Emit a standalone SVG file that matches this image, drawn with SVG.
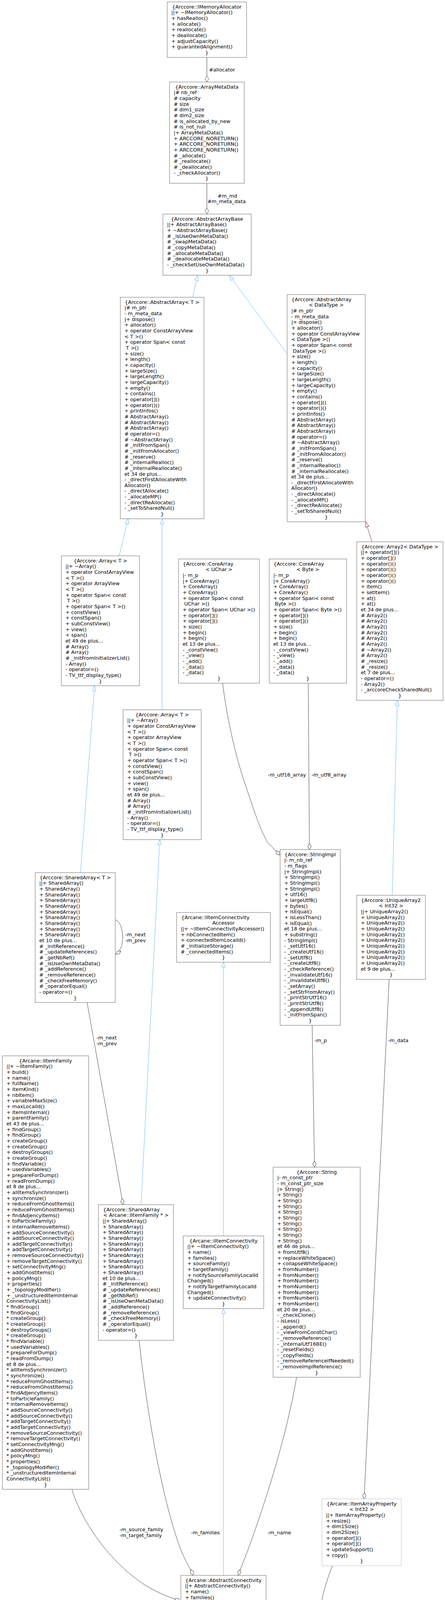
<svg xmlns="http://www.w3.org/2000/svg" width="1139" height="4711" viewBox="0 0 1139 4711">
<style>
text{font-family:"DejaVu Sans","Liberation Sans",sans-serif;font-size:12.8px;fill:#000}
.c{text-anchor:middle}
.b{fill:#fff;stroke:#666;stroke-width:1}
.g{fill:#fff;stroke:#bfbfbf;stroke-width:1}
.f{fill:#999;stroke:#666;stroke-width:1}
.e{fill:none;stroke:#404040;stroke-width:1}
.i{fill:none;stroke:#63b8ff;stroke-width:1}
.t{fill:none;stroke:#8b1a1a;stroke-width:1}
</style>
<defs>
<marker id="tri" viewBox="-14 -6 15 12" refX="0" refY="0" markerWidth="15" markerHeight="12" markerUnits="userSpaceOnUse" orient="auto"><path d="M0,0 L-13,-4.5 L-13,4.5 Z" fill="#fff" stroke="#63b8ff"/></marker>
<marker id="triR" viewBox="-14 -6 15 12" refX="0" refY="0" markerWidth="15" markerHeight="12" markerUnits="userSpaceOnUse" orient="auto"><path d="M0,0 L-13,-4.5 L-13,4.5 Z" fill="#fff" stroke="#8b1a1a"/></marker>
<marker id="dia" viewBox="-17 -6 18 12" refX="0" refY="0" markerWidth="18" markerHeight="12" markerUnits="userSpaceOnUse" orient="auto"><path d="M0,0 L-8,-4.5 L-16,0 L-8,4.5 Z" fill="#fff" stroke="#404040"/></marker>
</defs>
<rect width="1139" height="4711" fill="#fff"/>

<g id="edges">
<path class="e" d="M529.5,147 L529.5,210" marker-end="url(#dia)"/>
<path class="e" d="M529.5,469 L529.5,548" marker-end="url(#dia)"/>
<path class="i" d="M493,761 L506,705" marker-end="url(#tri)"/>
<path class="i" d="M735,906 L587,705" marker-end="url(#tri)"/>
<path class="i" d="M305,1423 L328,1328" marker-end="url(#tri)"/>
<path class="i" d="M415,1817 L415,1328" marker-end="url(#tri)"/>
<path class="t" d="M952,1387 L936,1336" marker-end="url(#triR)"/>
<path class="e" d="M570,1749 C578,1820 600,1930 630,2015 C652,2080 666,2125 686,2158 L717,2189" marker-end="url(#dia)"/>
<path class="e" d="M789,1749 L792,2175" marker-end="url(#dia)"/>
<path class="i" d="M1004,2292 L1017,1793" marker-end="url(#tri)"/>
<path class="i" d="M206,2234 L242,1756" marker-end="url(#tri)"/>
<path class="e" d="M295,2355 C315,2358 325,2425 296,2443" marker-end="url(#dia)"/>
<path class="e" d="M223,2566.5 L315,3084" marker-end="url(#dia)"/>
<path class="i" d="M361,3084 L409,2149.5" marker-end="url(#tri)"/>
<path class="i" d="M572,3164 L572,2463" marker-end="url(#tri)"/>
<path class="e" d="M799,2625 L805,2988" marker-end="url(#dia)"/>
<path class="e" d="M996,2507 L932,3837" marker-end="url(#dia)"/>
<path class="i" d="M572,4033 L572,3350" marker-end="url(#tri)"/>
<path class="e" d="M184,3812.5 C210,3900 290,4010 380,4063 C410,4080 430,4088 462,4098" marker-end="url(#dia)"/>
<path class="e" d="M356,3431 C380,3650 420,3850 460,3960 C475,4000 488,4015 494,4033" marker-end="url(#dia)"/>
<path class="e" d="M759,3526 C730,3700 660,3900 630,3980 C620,4005 614,4020 610,4033" marker-end="url(#dia)"/>
<path class="i" d="M712,4275 L650,4205" marker-end="url(#tri)"/>
<path class="e" d="M851,4008 C830,4060 814,4120 812,4200 L812,4268" marker-end="url(#dia)"/>
<path class="e" d="M998,4139 L918,4268" marker-end="url(#dia)"/>
<path class="i" d="M826,4591 L826,4542" marker-end="url(#tri)"/>
<text x="535" y="182.6">#allocator</text>
<text class="c" x="582" y="505.6">#m_md</text>
<text class="c" x="580" y="519.6">#m_meta_data</text>
<text class="c" x="734.5" y="1987.6">-m_utf16_array</text>
<text class="c" x="842" y="1987.6">-m_utf8_array</text>
<text x="321" y="2396.6">-m_next</text>
<text x="321" y="2411.6">-m_prev</text>
<text x="247" y="2660.6">-m_next</text>
<text x="247" y="2675.6">-m_prev</text>
<text x="805" y="2667.6">-m_p</text>
<text x="993" y="2667.6">-m_data</text>
<text x="306" y="3919.6">-m_source_family</text>
<text x="306" y="3934.6">-m_target_family</text>
<text x="489" y="3927.6">-m_families</text>
<text x="685" y="3927.6">-m_name</text>
<text x="845" y="4123.6">-m_item_property</text>
<text x="939" y="4240.6">-m_nb_dof_per_item</text>
</g>

<g id="n_IMemoryAllocator">
<rect class="b" x="428" y="5" width="203" height="141.94"/>
<text class="c" x="529.5" y="21.7">{Arccore::IMemoryAllocator</text>
<text x="438.5" y="21.7"><tspan x="438.5" dy="14.66">||+ ~IMemoryAllocator()</tspan><tspan x="438.5" dy="14.66">+ hasRealloc()</tspan><tspan x="438.5" dy="14.66">+ allocate()</tspan><tspan x="438.5" dy="14.66">+ reallocate()</tspan><tspan x="438.5" dy="14.66">+ deallocate()</tspan><tspan x="438.5" dy="14.66">+ adjustCapacity()</tspan><tspan x="438.5" dy="14.66">+ guarantedAlignment()</tspan></text>
<text class="c" x="529.5" y="138.98">}</text>
</g>

<g id="n_ArrayMetaData">
<rect class="b" x="434" y="210" width="191" height="259.22"/>
<text class="c" x="529.5" y="226.7">{Arccore::ArrayMetaData</text>
<text x="444.5" y="226.7"><tspan x="444.5" dy="14.66">|# nb_ref</tspan><tspan x="444.5" dy="14.66"># capacity</tspan><tspan x="444.5" dy="14.66"># size</tspan><tspan x="444.5" dy="14.66"># dim1_size</tspan><tspan x="444.5" dy="14.66"># dim2_size</tspan><tspan x="444.5" dy="14.66"># is_allocated_by_new</tspan><tspan x="444.5" dy="14.66"># is_not_null</tspan><tspan x="444.5" dy="14.66">|+ ArrayMetaData()</tspan><tspan x="444.5" dy="14.66">+ ARCCORE_NORETURN()</tspan><tspan x="444.5" dy="14.66">+ ARCCORE_NORETURN()</tspan><tspan x="444.5" dy="14.66">+ ARCCORE_NORETURN()</tspan><tspan x="444.5" dy="14.66"># _allocate()</tspan><tspan x="444.5" dy="14.66"># _reallocate()</tspan><tspan x="444.5" dy="14.66"># _deallocate()</tspan><tspan x="444.5" dy="14.66">- _checkAllocator()</tspan></text>
<text class="c" x="529.5" y="461.26">}</text>
</g>

<g id="n_AbstractArrayBase">
<rect class="b" x="417" y="548" width="226" height="156.6"/>
<text class="c" x="530" y="564.7">{Arccore::AbstractArrayBase</text>
<text x="427.5" y="564.7"><tspan x="427.5" dy="14.66">||+ AbstractArrayBase()</tspan><tspan x="427.5" dy="14.66">+ ~AbstractArrayBase()</tspan><tspan x="427.5" dy="14.66"># _isUseOwnMetaData()</tspan><tspan x="427.5" dy="14.66"># _swapMetaData()</tspan><tspan x="427.5" dy="14.66"># _copyMetaData()</tspan><tspan x="427.5" dy="14.66"># _allocateMetaData()</tspan><tspan x="427.5" dy="14.66"># _deallocateMetaData()</tspan><tspan x="427.5" dy="14.66">- _checkSetUseOwnMetaData()</tspan></text>
<text class="c" x="530" y="696.64">}</text>
</g>

<g id="n_AbstractArrayT">
<rect class="b" x="308" y="761" width="214" height="567.08"/>
<text class="c" x="415" y="777.7">{Arccore::AbstractArray&lt; T &gt;</text>
<text x="318.5" y="777.7"><tspan x="318.5" dy="14.66">|# m_ptr</tspan><tspan x="318.5" dy="14.66">- m_meta_data</tspan><tspan x="318.5" dy="14.66">|+ dispose()</tspan><tspan x="318.5" dy="14.66">+ allocator()</tspan><tspan x="318.5" dy="14.66">+ operator ConstArrayView</tspan><tspan x="318.5" dy="14.66">&lt; T &gt;()</tspan><tspan x="318.5" dy="14.66">+ operator Span&lt; const</tspan><tspan x="322.5" dy="14.66">T &gt;()</tspan><tspan x="318.5" dy="14.66">+ size()</tspan><tspan x="318.5" dy="14.66">+ length()</tspan><tspan x="318.5" dy="14.66">+ capacity()</tspan><tspan x="318.5" dy="14.66">+ largeSize()</tspan><tspan x="318.5" dy="14.66">+ largeLength()</tspan><tspan x="318.5" dy="14.66">+ largeCapacity()</tspan><tspan x="318.5" dy="14.66">+ empty()</tspan><tspan x="318.5" dy="14.66">+ contains()</tspan><tspan x="318.5" dy="14.66">+ operator[]()</tspan><tspan x="318.5" dy="14.66">+ operator()()</tspan><tspan x="318.5" dy="14.66">+ printInfos()</tspan><tspan x="318.5" dy="14.66"># AbstractArray()</tspan><tspan x="318.5" dy="14.66"># AbstractArray()</tspan><tspan x="318.5" dy="14.66"># AbstractArray()</tspan><tspan x="318.5" dy="14.66"># operator=()</tspan><tspan x="318.5" dy="14.66"># ~AbstractArray()</tspan><tspan x="318.5" dy="14.66"># _initFromSpan()</tspan><tspan x="318.5" dy="14.66"># _initFromAllocator()</tspan><tspan x="318.5" dy="14.66"># _reserve()</tspan><tspan x="318.5" dy="14.66"># _internalRealloc()</tspan><tspan x="318.5" dy="14.66"># _internalReallocate()</tspan><tspan x="318.5" dy="14.66">et 34 de plus...</tspan><tspan x="318.5" dy="14.66">- _directFirstAllocateWith</tspan><tspan x="318.5" dy="14.66">Allocator()</tspan><tspan x="318.5" dy="14.66">- _directAllocate()</tspan><tspan x="318.5" dy="14.66">- _allocateMP()</tspan><tspan x="318.5" dy="14.66">- _directReAllocate()</tspan><tspan x="318.5" dy="14.66">- _setToSharedNull()</tspan></text>
<text class="c" x="415" y="1320.12">}</text>
</g>

<g id="n_AbstractArrayDataType">
<rect class="b" x="735" y="754" width="200" height="581.74"/>
<text x="746" y="770.7">{Arccore::AbstractArray</text>
<text class="c" x="835" y="785.36">&lt; DataType &gt;</text>
<text x="745.5" y="785.36"><tspan x="745.5" dy="14.66">|# m_ptr</tspan><tspan x="745.5" dy="14.66">- m_meta_data</tspan><tspan x="745.5" dy="14.66">|+ dispose()</tspan><tspan x="745.5" dy="14.66">+ allocator()</tspan><tspan x="745.5" dy="14.66">+ operator ConstArrayView</tspan><tspan x="745.5" dy="14.66">&lt; DataType &gt;()</tspan><tspan x="745.5" dy="14.66">+ operator Span&lt; const</tspan><tspan x="749.5" dy="14.66">DataType &gt;()</tspan><tspan x="745.5" dy="14.66">+ size()</tspan><tspan x="745.5" dy="14.66">+ length()</tspan><tspan x="745.5" dy="14.66">+ capacity()</tspan><tspan x="745.5" dy="14.66">+ largeSize()</tspan><tspan x="745.5" dy="14.66">+ largeLength()</tspan><tspan x="745.5" dy="14.66">+ largeCapacity()</tspan><tspan x="745.5" dy="14.66">+ empty()</tspan><tspan x="745.5" dy="14.66">+ contains()</tspan><tspan x="745.5" dy="14.66">+ operator[]()</tspan><tspan x="745.5" dy="14.66">+ operator()()</tspan><tspan x="745.5" dy="14.66">+ printInfos()</tspan><tspan x="745.5" dy="14.66"># AbstractArray()</tspan><tspan x="745.5" dy="14.66"># AbstractArray()</tspan><tspan x="745.5" dy="14.66"># AbstractArray()</tspan><tspan x="745.5" dy="14.66"># operator=()</tspan><tspan x="745.5" dy="14.66"># ~AbstractArray()</tspan><tspan x="745.5" dy="14.66"># _initFromSpan()</tspan><tspan x="745.5" dy="14.66"># _initFromAllocator()</tspan><tspan x="745.5" dy="14.66"># _reserve()</tspan><tspan x="745.5" dy="14.66"># _internalRealloc()</tspan><tspan x="745.5" dy="14.66"># _internalReallocate()</tspan><tspan x="745.5" dy="14.66">et 34 de plus...</tspan><tspan x="745.5" dy="14.66">- _directFirstAllocateWith</tspan><tspan x="745.5" dy="14.66">Allocator()</tspan><tspan x="745.5" dy="14.66">- _directAllocate()</tspan><tspan x="745.5" dy="14.66">- _allocateMP()</tspan><tspan x="745.5" dy="14.66">- _directReAllocate()</tspan><tspan x="745.5" dy="14.66">- _setToSharedNull()</tspan></text>
<text class="c" x="835" y="1327.78">}</text>
</g>

<g id="n_ArrayT_1">
<rect class="b" x="157" y="1423" width="200" height="332.52"/>
<text class="c" x="257" y="1439.7">{Arccore::Array&lt; T &gt;</text>
<text x="167.5" y="1439.7"><tspan x="167.5" dy="14.66">||+ ~Array()</tspan><tspan x="167.5" dy="14.66">+ operator ConstArrayView</tspan><tspan x="167.5" dy="14.66">&lt; T &gt;()</tspan><tspan x="167.5" dy="14.66">+ operator ArrayView</tspan><tspan x="167.5" dy="14.66">&lt; T &gt;()</tspan><tspan x="167.5" dy="14.66">+ operator Span&lt; const</tspan><tspan x="171.5" dy="14.66">T &gt;()</tspan><tspan x="167.5" dy="14.66">+ operator Span&lt; T &gt;()</tspan><tspan x="167.5" dy="14.66">+ constView()</tspan><tspan x="167.5" dy="14.66">+ constSpan()</tspan><tspan x="167.5" dy="14.66">+ subConstView()</tspan><tspan x="167.5" dy="14.66">+ view()</tspan><tspan x="167.5" dy="14.66">+ span()</tspan><tspan x="167.5" dy="14.66">et 49 de plus...</tspan><tspan x="167.5" dy="14.66"># Array()</tspan><tspan x="167.5" dy="14.66"># Array()</tspan><tspan x="167.5" dy="14.66"># _initFromInitializerList()</tspan><tspan x="167.5" dy="14.66">- Array()</tspan><tspan x="167.5" dy="14.66">- operator=()</tspan><tspan x="167.5" dy="14.66">- TV_ttf_display_type()</tspan></text>
<text class="c" x="257" y="1747.56">}</text>
</g>

<g id="n_CoreArrayUChar">
<rect class="b" x="457" y="1431" width="207" height="317.86"/>
<text x="468" y="1447.7">{Arccore::CoreArray</text>
<text class="c" x="560.5" y="1462.36">&lt; UChar &gt;</text>
<text x="467.5" y="1462.36"><tspan x="467.5" dy="14.66">|- m_p</tspan><tspan x="467.5" dy="14.66">|+ CoreArray()</tspan><tspan x="467.5" dy="14.66">+ CoreArray()</tspan><tspan x="467.5" dy="14.66">+ CoreArray()</tspan><tspan x="467.5" dy="14.66">+ operator Span&lt; const</tspan><tspan x="471.5" dy="14.66">UChar &gt;()</tspan><tspan x="467.5" dy="14.66">+ operator Span&lt; UChar &gt;()</tspan><tspan x="467.5" dy="14.66">+ operator[]()</tspan><tspan x="467.5" dy="14.66">+ operator[]()</tspan><tspan x="467.5" dy="14.66">+ size()</tspan><tspan x="467.5" dy="14.66">+ begin()</tspan><tspan x="467.5" dy="14.66">+ begin()</tspan><tspan x="467.5" dy="14.66">et 13 de plus...</tspan><tspan x="467.5" dy="14.66">- _constView()</tspan><tspan x="467.5" dy="14.66">- _view()</tspan><tspan x="467.5" dy="14.66">- _add()</tspan><tspan x="467.5" dy="14.66">- _data()</tspan><tspan x="467.5" dy="14.66">- _data()</tspan></text>
<text class="c" x="560.5" y="1740.9">}</text>
</g>

<g id="n_CoreArrayByte">
<rect class="b" x="689" y="1431" width="198" height="317.86"/>
<text x="700" y="1447.7">{Arccore::CoreArray</text>
<text class="c" x="788" y="1462.36">&lt; Byte &gt;</text>
<text x="699.5" y="1462.36"><tspan x="699.5" dy="14.66">|- m_p</tspan><tspan x="699.5" dy="14.66">|+ CoreArray()</tspan><tspan x="699.5" dy="14.66">+ CoreArray()</tspan><tspan x="699.5" dy="14.66">+ CoreArray()</tspan><tspan x="699.5" dy="14.66">+ operator Span&lt; const</tspan><tspan x="703.5" dy="14.66">Byte &gt;()</tspan><tspan x="699.5" dy="14.66">+ operator Span&lt; Byte &gt;()</tspan><tspan x="699.5" dy="14.66">+ operator[]()</tspan><tspan x="699.5" dy="14.66">+ operator[]()</tspan><tspan x="699.5" dy="14.66">+ size()</tspan><tspan x="699.5" dy="14.66">+ begin()</tspan><tspan x="699.5" dy="14.66">+ begin()</tspan><tspan x="699.5" dy="14.66">et 13 de plus...</tspan><tspan x="699.5" dy="14.66">- _constView()</tspan><tspan x="699.5" dy="14.66">- _view()</tspan><tspan x="699.5" dy="14.66">- _add()</tspan><tspan x="699.5" dy="14.66">- _data()</tspan><tspan x="699.5" dy="14.66">- _data()</tspan></text>
<text class="c" x="788" y="1740.9">}</text>
</g>

<g id="n_Array2DataType">
<rect class="b" x="913" y="1387" width="221" height="405.82"/>
<text class="c" x="1023.5" y="1403.7">{Arccore::Array2&lt; DataType &gt;</text>
<text x="923.5" y="1403.7"><tspan x="923.5" dy="14.66">||+ operator[]()</tspan><tspan x="923.5" dy="14.66">+ operator[]()</tspan><tspan x="923.5" dy="14.66">+ operator()()</tspan><tspan x="923.5" dy="14.66">+ operator()()</tspan><tspan x="923.5" dy="14.66">+ operator()()</tspan><tspan x="923.5" dy="14.66">+ operator()()</tspan><tspan x="923.5" dy="14.66">+ item()</tspan><tspan x="923.5" dy="14.66">+ setItem()</tspan><tspan x="923.5" dy="14.66">+ at()</tspan><tspan x="923.5" dy="14.66">+ at()</tspan><tspan x="923.5" dy="14.66">et 34 de plus...</tspan><tspan x="923.5" dy="14.66"># Array2()</tspan><tspan x="923.5" dy="14.66"># Array2()</tspan><tspan x="923.5" dy="14.66"># Array2()</tspan><tspan x="923.5" dy="14.66"># Array2()</tspan><tspan x="923.5" dy="14.66"># Array2()</tspan><tspan x="923.5" dy="14.66"># Array2()</tspan><tspan x="923.5" dy="14.66"># ~Array2()</tspan><tspan x="923.5" dy="14.66"># Array2()</tspan><tspan x="923.5" dy="14.66"># _resize()</tspan><tspan x="923.5" dy="14.66"># _resize()</tspan><tspan x="923.5" dy="14.66">et 7 de plus...</tspan><tspan x="923.5" dy="14.66">- operator=()</tspan><tspan x="923.5" dy="14.66">- Array2()</tspan><tspan x="923.5" dy="14.66">- _arccoreCheckSharedNull()</tspan></text>
<text class="c" x="1023.5" y="1784.86">}</text>
</g>

<g id="n_ArrayT_2">
<rect class="b" x="315" y="1817" width="200" height="332.52"/>
<text class="c" x="415" y="1833.7">{Arccore::Array&lt; T &gt;</text>
<text x="325.5" y="1833.7"><tspan x="325.5" dy="14.66">||+ ~Array()</tspan><tspan x="325.5" dy="14.66">+ operator ConstArrayView</tspan><tspan x="325.5" dy="14.66">&lt; T &gt;()</tspan><tspan x="325.5" dy="14.66">+ operator ArrayView</tspan><tspan x="325.5" dy="14.66">&lt; T &gt;()</tspan><tspan x="325.5" dy="14.66">+ operator Span&lt; const</tspan><tspan x="329.5" dy="14.66">T &gt;()</tspan><tspan x="325.5" dy="14.66">+ operator Span&lt; T &gt;()</tspan><tspan x="325.5" dy="14.66">+ constView()</tspan><tspan x="325.5" dy="14.66">+ constSpan()</tspan><tspan x="325.5" dy="14.66">+ subConstView()</tspan><tspan x="325.5" dy="14.66">+ view()</tspan><tspan x="325.5" dy="14.66">+ span()</tspan><tspan x="325.5" dy="14.66">et 49 de plus...</tspan><tspan x="325.5" dy="14.66"># Array()</tspan><tspan x="325.5" dy="14.66"># Array()</tspan><tspan x="325.5" dy="14.66"># _initFromInitializerList()</tspan><tspan x="325.5" dy="14.66">- Array()</tspan><tspan x="325.5" dy="14.66">- operator=()</tspan><tspan x="325.5" dy="14.66">- TV_ttf_display_type()</tspan></text>
<text class="c" x="415" y="2141.56">}</text>
</g>

<g id="n_SharedArrayT">
<rect class="b" x="90" y="2234" width="205" height="332.52"/>
<text class="c" x="192.5" y="2250.7">{Arccore::SharedArray&lt; T &gt;</text>
<text x="100.5" y="2250.7"><tspan x="100.5" dy="14.66">||+ SharedArray()</tspan><tspan x="100.5" dy="14.66">+ SharedArray()</tspan><tspan x="100.5" dy="14.66">+ SharedArray()</tspan><tspan x="100.5" dy="14.66">+ SharedArray()</tspan><tspan x="100.5" dy="14.66">+ SharedArray()</tspan><tspan x="100.5" dy="14.66">+ SharedArray()</tspan><tspan x="100.5" dy="14.66">+ SharedArray()</tspan><tspan x="100.5" dy="14.66">+ SharedArray()</tspan><tspan x="100.5" dy="14.66">+ SharedArray()</tspan><tspan x="100.5" dy="14.66">+ SharedArray()</tspan><tspan x="100.5" dy="14.66">et 10 de plus...</tspan><tspan x="100.5" dy="14.66"># _initReference()</tspan><tspan x="100.5" dy="14.66"># _updateReferences()</tspan><tspan x="100.5" dy="14.66"># _getNbRef()</tspan><tspan x="100.5" dy="14.66"># _isUseOwnMetaData()</tspan><tspan x="100.5" dy="14.66"># _addReference()</tspan><tspan x="100.5" dy="14.66"># _removeReference()</tspan><tspan x="100.5" dy="14.66"># _checkFreeMemory()</tspan><tspan x="100.5" dy="14.66"># _operatorEqual()</tspan><tspan x="100.5" dy="14.66">- operator=()</tspan></text>
<text class="c" x="192.5" y="2558.56">}</text>
</g>

<g id="n_IItemConnectivityAccessor">
<rect class="b" x="452" y="2336" width="240" height="127.28"/>
<text x="464" y="2352.7">{Arcane::IItemConnectivity</text>
<text class="c" x="572" y="2367.36">Accessor</text>
<text x="462.5" y="2367.36"><tspan x="462.5" dy="14.66">||+ ~IItemConnectivityAccessor()</tspan><tspan x="462.5" dy="14.66">+ nbConnectedItem()</tspan><tspan x="462.5" dy="14.66">+ connectedItemLocalId()</tspan><tspan x="462.5" dy="14.66"># _initializeStorage()</tspan><tspan x="462.5" dy="14.66"># _connectedItems()</tspan></text>
<text class="c" x="572" y="2455.32">}</text>
</g>

<g id="n_StringImpl">
<rect class="b" x="717" y="2175" width="154" height="449.8"/>
<text class="c" x="794" y="2191.7">{Arccore::StringImpl</text>
<text x="727.5" y="2191.7"><tspan x="727.5" dy="14.66">|- m_nb_ref</tspan><tspan x="727.5" dy="14.66">- m_flags</tspan><tspan x="727.5" dy="14.66">|+ StringImpl()</tspan><tspan x="727.5" dy="14.66">+ StringImpl()</tspan><tspan x="727.5" dy="14.66">+ StringImpl()</tspan><tspan x="727.5" dy="14.66">+ StringImpl()</tspan><tspan x="727.5" dy="14.66">+ utf16()</tspan><tspan x="727.5" dy="14.66">+ largeUtf8()</tspan><tspan x="727.5" dy="14.66">+ bytes()</tspan><tspan x="727.5" dy="14.66">+ isEqual()</tspan><tspan x="727.5" dy="14.66">+ isLessThan()</tspan><tspan x="727.5" dy="14.66">+ isEqual()</tspan><tspan x="727.5" dy="14.66">et 18 de plus...</tspan><tspan x="727.5" dy="14.66">+ substring()</tspan><tspan x="727.5" dy="14.66">- StringImpl()</tspan><tspan x="727.5" dy="14.66">- _setUtf16()</tspan><tspan x="727.5" dy="14.66">- _createUtf16()</tspan><tspan x="727.5" dy="14.66">- _setUtf8()</tspan><tspan x="727.5" dy="14.66">- _createUtf8()</tspan><tspan x="727.5" dy="14.66">- _checkReference()</tspan><tspan x="727.5" dy="14.66">- _invalidateUtf16()</tspan><tspan x="727.5" dy="14.66">- _invalidateUtf8()</tspan><tspan x="727.5" dy="14.66">- _setArray()</tspan><tspan x="727.5" dy="14.66">- _setStrFromArray()</tspan><tspan x="727.5" dy="14.66">- _printStrUtf16()</tspan><tspan x="727.5" dy="14.66">- _printStrUtf8()</tspan><tspan x="727.5" dy="14.66">- _appendUtf8()</tspan><tspan x="727.5" dy="14.66">- _initFromSpan()</tspan></text>
<text class="c" x="794" y="2616.84">}</text>
</g>

<g id="n_UniqueArray2Int32">
<rect class="b" x="913" y="2292" width="176" height="215.24"/>
<text x="924" y="2308.7">{Arccore::UniqueArray2</text>
<text class="c" x="1001" y="2323.36">&lt; Int32 &gt;</text>
<text x="923.5" y="2323.36"><tspan x="923.5" dy="14.66">||+ UniqueArray2()</tspan><tspan x="923.5" dy="14.66">+ UniqueArray2()</tspan><tspan x="923.5" dy="14.66">+ UniqueArray2()</tspan><tspan x="923.5" dy="14.66">+ UniqueArray2()</tspan><tspan x="923.5" dy="14.66">+ UniqueArray2()</tspan><tspan x="923.5" dy="14.66">+ UniqueArray2()</tspan><tspan x="923.5" dy="14.66">+ UniqueArray2()</tspan><tspan x="923.5" dy="14.66">+ UniqueArray2()</tspan><tspan x="923.5" dy="14.66">+ UniqueArray2()</tspan><tspan x="923.5" dy="14.66">+ UniqueArray2()</tspan><tspan x="923.5" dy="14.66">et 9 de plus...</tspan></text>
<text class="c" x="1001" y="2499.28">}</text>
</g>

<g id="n_IItemFamily">
<rect class="b" x="6" y="2703" width="221" height="1109.5"/>
<text class="c" x="116.5" y="2719.7">{Arcane::IItemFamily</text>
<text x="16.5" y="2719.7"><tspan x="16.5" dy="14.66">||+ ~IItemFamily()</tspan><tspan x="16.5" dy="14.66">+ build()</tspan><tspan x="16.5" dy="14.66">+ name()</tspan><tspan x="16.5" dy="14.66">+ fullName()</tspan><tspan x="16.5" dy="14.66">+ itemKind()</tspan><tspan x="16.5" dy="14.66">+ nbItem()</tspan><tspan x="16.5" dy="14.66">+ variableMaxSize()</tspan><tspan x="16.5" dy="14.66">+ maxLocalId()</tspan><tspan x="16.5" dy="14.66">+ itemsInternal()</tspan><tspan x="16.5" dy="14.66">+ parentFamily()</tspan><tspan x="16.5" dy="14.66">et 43 de plus...</tspan><tspan x="16.5" dy="14.66">+ findGroup()</tspan><tspan x="16.5" dy="14.66">+ findGroup()</tspan><tspan x="16.5" dy="14.66">+ createGroup()</tspan><tspan x="16.5" dy="14.66">+ createGroup()</tspan><tspan x="16.5" dy="14.66">+ destroyGroups()</tspan><tspan x="16.5" dy="14.66">+ createGroup()</tspan><tspan x="16.5" dy="14.66">+ findVariable()</tspan><tspan x="16.5" dy="14.66">+ usedVariables()</tspan><tspan x="16.5" dy="14.66">+ prepareForDump()</tspan><tspan x="16.5" dy="14.66">+ readFromDump()</tspan><tspan x="16.5" dy="14.66">et 8 de plus...</tspan><tspan x="16.5" dy="14.66">+ allItemsSynchronizer()</tspan><tspan x="16.5" dy="14.66">+ synchronize()</tspan><tspan x="16.5" dy="14.66">+ reduceFromGhostItems()</tspan><tspan x="16.5" dy="14.66">+ reduceFromGhostItems()</tspan><tspan x="16.5" dy="14.66">+ findAdjencyItems()</tspan><tspan x="16.5" dy="14.66">+ toParticleFamily()</tspan><tspan x="16.5" dy="14.66">+ internalRemoveItems()</tspan><tspan x="16.5" dy="14.66">+ addSourceConnectivity()</tspan><tspan x="16.5" dy="14.66">+ addSourceConnectivity()</tspan><tspan x="16.5" dy="14.66">+ addTargetConnectivity()</tspan><tspan x="16.5" dy="14.66">+ addTargetConnectivity()</tspan><tspan x="16.5" dy="14.66">+ removeSourceConnectivity()</tspan><tspan x="16.5" dy="14.66">+ removeTargetConnectivity()</tspan><tspan x="16.5" dy="14.66">+ setConnectivityMng()</tspan><tspan x="16.5" dy="14.66">+ addGhostItems()</tspan><tspan x="16.5" dy="14.66">+ policyMng()</tspan><tspan x="16.5" dy="14.66">+ properties()</tspan><tspan x="16.5" dy="14.66">+ _topologyModifier()</tspan><tspan x="16.5" dy="14.66">+ _unstructuredItemInternal</tspan><tspan x="16.5" dy="14.66">ConnectivityList()</tspan><tspan x="16.5" dy="14.66">* findGroup()</tspan><tspan x="16.5" dy="14.66">* findGroup()</tspan><tspan x="16.5" dy="14.66">* createGroup()</tspan><tspan x="16.5" dy="14.66">* createGroup()</tspan><tspan x="16.5" dy="14.66">* destroyGroups()</tspan><tspan x="16.5" dy="14.66">* createGroup()</tspan><tspan x="16.5" dy="14.66">* findVariable()</tspan><tspan x="16.5" dy="14.66">* usedVariables()</tspan><tspan x="16.5" dy="14.66">* prepareForDump()</tspan><tspan x="16.5" dy="14.66">* readFromDump()</tspan><tspan x="16.5" dy="14.66">et 8 de plus...</tspan><tspan x="16.5" dy="14.66">* allItemsSynchronizer()</tspan><tspan x="16.5" dy="14.66">* synchronize()</tspan><tspan x="16.5" dy="14.66">* reduceFromGhostItems()</tspan><tspan x="16.5" dy="14.66">* reduceFromGhostItems()</tspan><tspan x="16.5" dy="14.66">* findAdjencyItems()</tspan><tspan x="16.5" dy="14.66">* toParticleFamily()</tspan><tspan x="16.5" dy="14.66">* internalRemoveItems()</tspan><tspan x="16.5" dy="14.66">* addSourceConnectivity()</tspan><tspan x="16.5" dy="14.66">* addSourceConnectivity()</tspan><tspan x="16.5" dy="14.66">* addTargetConnectivity()</tspan><tspan x="16.5" dy="14.66">* addTargetConnectivity()</tspan><tspan x="16.5" dy="14.66">* removeSourceConnectivity()</tspan><tspan x="16.5" dy="14.66">* removeTargetConnectivity()</tspan><tspan x="16.5" dy="14.66">* setConnectivityMng()</tspan><tspan x="16.5" dy="14.66">* addGhostItems()</tspan><tspan x="16.5" dy="14.66">* policyMng()</tspan><tspan x="16.5" dy="14.66">* properties()</tspan><tspan x="16.5" dy="14.66">* _topologyModifier()</tspan><tspan x="16.5" dy="14.66">* _unstructuredItemInternal</tspan><tspan x="16.5" dy="14.66">ConnectivityList()</tspan></text>
<text class="c" x="116.5" y="3804.54">}</text>
</g>

<g id="n_SharedArrayIItemFamily">
<rect class="b" x="252" y="3084" width="192" height="347.18"/>
<text x="264" y="3100.7">{Arccore::SharedArray</text>
<text class="c" x="348" y="3115.36">&lt; Arcane::IItemFamily * &gt;</text>
<text x="262.5" y="3115.36"><tspan x="262.5" dy="14.66">||+ SharedArray()</tspan><tspan x="262.5" dy="14.66">+ SharedArray()</tspan><tspan x="262.5" dy="14.66">+ SharedArray()</tspan><tspan x="262.5" dy="14.66">+ SharedArray()</tspan><tspan x="262.5" dy="14.66">+ SharedArray()</tspan><tspan x="262.5" dy="14.66">+ SharedArray()</tspan><tspan x="262.5" dy="14.66">+ SharedArray()</tspan><tspan x="262.5" dy="14.66">+ SharedArray()</tspan><tspan x="262.5" dy="14.66">+ SharedArray()</tspan><tspan x="262.5" dy="14.66">+ SharedArray()</tspan><tspan x="262.5" dy="14.66">et 10 de plus...</tspan><tspan x="262.5" dy="14.66"># _initReference()</tspan><tspan x="262.5" dy="14.66"># _updateReferences()</tspan><tspan x="262.5" dy="14.66"># _getNbRef()</tspan><tspan x="262.5" dy="14.66"># _isUseOwnMetaData()</tspan><tspan x="262.5" dy="14.66"># _addReference()</tspan><tspan x="262.5" dy="14.66"># _removeReference()</tspan><tspan x="262.5" dy="14.66"># _checkFreeMemory()</tspan><tspan x="262.5" dy="14.66"># _operatorEqual()</tspan><tspan x="262.5" dy="14.66">- operator=()</tspan></text>
<text class="c" x="348" y="3423.22">}</text>
</g>

<g id="n_IItemConnectivity">
<rect class="b" x="469" y="3164" width="206" height="185.92"/>
<text class="c" x="572" y="3180.7">{Arcane::IItemConnectivity</text>
<text x="479.5" y="3180.7"><tspan x="479.5" dy="14.66">||+ ~IItemConnectivity()</tspan><tspan x="479.5" dy="14.66">+ name()</tspan><tspan x="479.5" dy="14.66">+ families()</tspan><tspan x="479.5" dy="14.66">+ sourceFamily()</tspan><tspan x="479.5" dy="14.66">+ targetFamily()</tspan><tspan x="479.5" dy="14.66">+ notifySourceFamilyLocalId</tspan><tspan x="479.5" dy="14.66">Changed()</tspan><tspan x="479.5" dy="14.66">+ notifyTargetFamilyLocalId</tspan><tspan x="479.5" dy="14.66">Changed()</tspan><tspan x="479.5" dy="14.66">+ updateConnectivity()</tspan></text>
<text class="c" x="572" y="3341.96">}</text>
</g>

<g id="n_String">
<rect class="b" x="699" y="2988" width="223" height="537.76"/>
<text class="c" x="810.5" y="3004.7">{Arccore::String</text>
<text x="709.5" y="3004.7"><tspan x="709.5" dy="14.66">|- m_const_ptr</tspan><tspan x="709.5" dy="14.66">- m_const_ptr_size</tspan><tspan x="709.5" dy="14.66">|+ String()</tspan><tspan x="709.5" dy="14.66">+ String()</tspan><tspan x="709.5" dy="14.66">+ String()</tspan><tspan x="709.5" dy="14.66">+ String()</tspan><tspan x="709.5" dy="14.66">+ String()</tspan><tspan x="709.5" dy="14.66">+ String()</tspan><tspan x="709.5" dy="14.66">+ String()</tspan><tspan x="709.5" dy="14.66">+ String()</tspan><tspan x="709.5" dy="14.66">+ String()</tspan><tspan x="709.5" dy="14.66">+ String()</tspan><tspan x="709.5" dy="14.66">et 46 de plus...</tspan><tspan x="709.5" dy="14.66">+ fromUtf8()</tspan><tspan x="709.5" dy="14.66">+ replaceWhiteSpace()</tspan><tspan x="709.5" dy="14.66">+ collapseWhiteSpace()</tspan><tspan x="709.5" dy="14.66">+ fromNumber()</tspan><tspan x="709.5" dy="14.66">+ fromNumber()</tspan><tspan x="709.5" dy="14.66">+ fromNumber()</tspan><tspan x="709.5" dy="14.66">+ fromNumber()</tspan><tspan x="709.5" dy="14.66">+ fromNumber()</tspan><tspan x="709.5" dy="14.66">+ fromNumber()</tspan><tspan x="709.5" dy="14.66">+ fromNumber()</tspan><tspan x="709.5" dy="14.66">et 20 de plus...</tspan><tspan x="709.5" dy="14.66">- _checkClone()</tspan><tspan x="709.5" dy="14.66">- isLess()</tspan><tspan x="709.5" dy="14.66">- _append()</tspan><tspan x="709.5" dy="14.66">- _viewFromConstChar()</tspan><tspan x="709.5" dy="14.66">- _removeReference()</tspan><tspan x="709.5" dy="14.66">- _internalUtf16BE()</tspan><tspan x="709.5" dy="14.66">- _resetFields()</tspan><tspan x="709.5" dy="14.66">- _copyFields()</tspan><tspan x="709.5" dy="14.66">- _removeReferenceIfNeeded()</tspan><tspan x="709.5" dy="14.66">- _removeImplReference()</tspan></text>
<text class="c" x="810.5" y="3517.8">}</text>
</g>

<g id="n_ItemArrayPropertyInt32">
<rect class="g" x="824" y="3837" width="203" height="171.26"/>
<text x="836" y="3853.7">{Arcane::ItemArrayProperty</text>
<text class="c" x="925.5" y="3868.36">&lt; Int32 &gt;</text>
<text x="834.5" y="3868.36"><tspan x="834.5" dy="14.66">||+ ItemArrayProperty()</tspan><tspan x="834.5" dy="14.66">+ resize()</tspan><tspan x="834.5" dy="14.66">+ dim1Size()</tspan><tspan x="834.5" dy="14.66">+ dim2Size()</tspan><tspan x="834.5" dy="14.66">+ operator[]()</tspan><tspan x="834.5" dy="14.66">+ operator[]()</tspan><tspan x="834.5" dy="14.66">+ updateSupport()</tspan><tspan x="834.5" dy="14.66">+ copy()</tspan></text>
<text class="c" x="925.5" y="4000.3">}</text>
</g>

<g id="n_AbstractConnectivity">
<rect class="b" x="463" y="4033" width="218" height="171.26"/>
<text class="c" x="572" y="4049.7">{Arcane::AbstractConnectivity</text>
<text x="473.5" y="4049.7"><tspan x="473.5" dy="14.66">||+ AbstractConnectivity()</tspan><tspan x="473.5" dy="14.66">+ name()</tspan><tspan x="473.5" dy="14.66">+ families()</tspan><tspan x="473.5" dy="14.66">+ sourceFamily()</tspan><tspan x="473.5" dy="14.66">+ targetFamily()</tspan><tspan x="473.5" dy="14.66">+ _initializeStorage()</tspan><tspan x="473.5" dy="14.66"># _families()</tspan><tspan x="473.5" dy="14.66"># _sourceFamily()</tspan><tspan x="473.5" dy="14.66"># _targetFamily()</tspan></text>
<text class="c" x="572" y="4196.3">}</text>
</g>

<g id="n_Integer">
<rect class="g" x="973" y="4100" width="76" height="39.32"/>
<text class="c" x="1011" y="4116.7">{Integer</text>
<text class="c" x="1011" y="4131.36">||}</text>
</g>

<g id="n_ItemArrayConnectivity">
<rect class="g" x="712" y="4268" width="231" height="273.88"/>
<text class="c" x="827.5" y="4284.7">{Arcane::ItemArrayConnectivity</text>
<text x="722.5" y="4284.7"><tspan x="722.5" dy="14.66">||+ ItemArrayConnectivity()</tspan><tspan x="722.5" dy="14.66">+ ItemArrayConnectivity()</tspan><tspan x="722.5" dy="14.66">+ _connectedItems()</tspan><tspan x="722.5" dy="14.66">+ _connectedItems()</tspan><tspan x="722.5" dy="14.66">+ updateConnectivity()</tspan><tspan x="722.5" dy="14.66">+ itemProperty()</tspan><tspan x="722.5" dy="14.66">+ updateItemProperty()</tspan><tspan x="722.5" dy="14.66">+ operator()()</tspan><tspan x="722.5" dy="14.66">+ operator()()</tspan><tspan x="722.5" dy="14.66">+ nbConnectedItem()</tspan><tspan x="722.5" dy="14.66">+ connectedItemLocalId()</tspan><tspan x="722.5" dy="14.66">+ notifySourceFamilyLocalId</tspan><tspan x="722.5" dy="14.66">Changed()</tspan><tspan x="722.5" dy="14.66">+ notifyTargetFamilyLocalId</tspan><tspan x="722.5" dy="14.66">Changed()</tspan><tspan x="722.5" dy="14.66">- compute()</tspan></text>
<text class="c" x="827.5" y="4533.92">}</text>
</g>

<g id="n_ItemArrayConnectivityT">
<rect class="f" x="710" y="4591" width="234" height="112.62"/>
<text x="721" y="4607.7">{Arcane::ItemArrayConnectivity</text>
<text x="721" y="4622.36">T&lt; FromItemType, ToItemType &gt;</text>
<text x="720.5" y="4622.36"><tspan x="720.5" dy="14.66">||+ ItemArrayConnectivityT()</tspan><tspan x="720.5" dy="14.66">+ ItemArrayConnectivityT()</tspan><tspan x="720.5" dy="14.66">+ operator()()</tspan><tspan x="720.5" dy="14.66">+ operator()()</tspan></text>
<text class="c" x="827" y="4695.66">}</text>
</g>
</svg>
